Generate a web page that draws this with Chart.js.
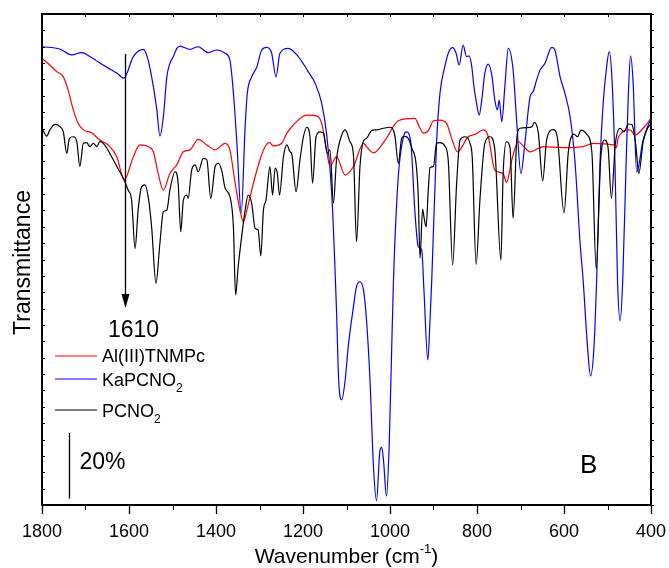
<!DOCTYPE html>
<html>
<head>
<meta charset="utf-8">
<title>FT-IR spectra B</title>
<script src="https://cdn.jsdelivr.net/npm/chart.js@4.4.1/dist/chart.umd.min.js"></script>
<style>
  body { margin: 0; background: #fff; }
  canvas { display: block; }
</style>
</head>
<body>
<canvas id="irChart" width="669" height="568"></canvas>
<script>
'use strict';

// KaPCNO2 (blue): wavenumber in cm-1, transmittance in % (offset scale)
let kaWavenumber = [1800, 1759, 1732, 1709, 1686, 1667, 1644, 1628, 1612, 1590,
  1567, 1556, 1544, 1536, 1529, 1521, 1513, 1506, 1498, 1490,
  1483, 1460, 1441, 1418, 1398, 1379, 1368, 1360, 1352, 1342,
  1333, 1328, 1318, 1306, 1295, 1283, 1272, 1262, 1253, 1234,
  1211, 1188, 1172, 1157, 1146, 1134, 1123, 1118, 1111, 1103,
  1096, 1084, 1077, 1069, 1061, 1054, 1046, 1038, 1031, 1023,
  1019, 1015, 1008, 1002, 996, 992, 981, 969, 962, 952,
  943, 935, 927, 922, 913, 908, 904, 893, 885, 874,
  866, 856, 848, 841, 832, 824, 818, 812, 807, 801,
  795, 789, 782, 774, 766, 759, 753, 749, 743, 736,
  728, 717, 709, 699, 690, 678, 671, 663, 655, 644,
  628, 621, 609, 598, 586, 575, 563, 556, 546, 539,
  531, 525, 517, 510, 502, 496, 490, 483, 477, 471,
  465, 457, 452, 447, 441, 433, 418, 400];
let kaTransmittance = [140.0, 139.3, 137.5, 138.2, 136.7, 135.0, 133.2, 132.0, 130.4, 137.0,
  139.2, 135.9, 127.8, 120.7, 112.7, 118.6, 130.8, 134.9, 137.0, 139.5,
  140.2, 139.2, 140.0, 138.2, 139.0, 138.0, 135.9, 125.9, 110.6, 89.2,
  115.6, 125.8, 130.8, 133.9, 139.0, 139.8, 138.0, 130.8, 138.0, 139.5,
  137.0, 132.4, 128.8, 122.7, 113.6, 95.3, 59.6, 38.2, 32.1, 38.2,
  48.4, 60.6, 66.7, 68.2, 65.7, 56.5, 38.2, 11.7, 1.3, 16.8,
  17.6, 13.7, 2.7, 17.8, 48.4, 68.7, 100.3, 112.5, 114.0, 110.6,
  90.1, 78.9, 77.9, 65.7, 44.3, 56.5, 68.7, 110.6, 125.9, 133.9,
  138.0, 139.7, 138.0, 134.4, 140.5, 137.0, 137.2, 133.9, 127.8, 122.7,
  119.1, 123.7, 131.9, 134.7, 131.4, 123.7, 120.7, 123.7, 117.1, 127.8,
  139.5, 132.9, 117.6, 101.3, 110.5, 124.7, 126.3, 129.8, 132.9, 134.9,
  139.8, 139.0, 130.8, 125.8, 118.6, 105.4, 80.0, 68.7, 48.4, 39.4,
  48.4, 68.7, 105.4, 122.7, 133.9, 138.5, 130.8, 105.4, 68.7, 56.3,
  68.7, 105.4, 125.8, 137.2, 128.8, 101.7, 111.5, 118.2];

// Al(III)TNMPc (red)
let alWavenumber = [1800, 1782, 1766, 1751, 1740, 1728, 1717, 1705, 1686, 1667,
  1648, 1628, 1611, 1590, 1575, 1556, 1544, 1533, 1521, 1506,
  1490, 1475, 1460, 1441, 1421, 1402, 1379, 1368, 1356, 1345,
  1337, 1329, 1314, 1299, 1287, 1277, 1268, 1249, 1237, 1222,
  1207, 1191, 1168, 1157, 1146, 1138, 1123, 1103, 1084, 1061,
  1054, 1038, 1011, 981, 943, 931, 923, 912, 900, 885,
  870, 857, 845, 820, 805, 785, 774, 759, 740, 732,
  720, 705, 694, 678, 648, 602, 556, 533, 487, 480,
  475, 448, 437, 418, 400];
let alTransmittance = [136.5, 134.4, 132.4, 130.8, 126.8, 120.7, 116.6, 114.6, 113.7, 111.5,
  110.0, 106.4, 99.3, 106.4, 110.0, 109.5, 107.9, 101.3, 96.2, 101.3,
  103.9, 107.9, 108.5, 111.7, 110.0, 108.5, 110.5, 108.5, 98.3, 90.1,
  86.5, 90.1, 98.3, 105.4, 109.5, 110.7, 109.7, 110.5, 113.6, 116.1,
  118.1, 119.1, 118.8, 116.6, 108.5, 103.4, 106.4, 100.8, 103.4, 110.5,
  109.5, 107.6, 111.5, 117.4, 118.1, 115.1, 113.6, 114.3, 117.4, 117.6,
  116.6, 111.5, 107.9, 112.5, 113.2, 114.6, 112.5, 102.3, 101.3, 98.5,
  105.4, 111.0, 109.7, 107.9, 109.5, 109.2, 109.5, 110.5, 110.0, 109.1,
  112.3, 114.6, 113.0, 115.1, 118.1];

// PCNO2 (black)
let pcWavenumber = [1800, 1789, 1782, 1770, 1759, 1751, 1743, 1737, 1728, 1720,
  1713, 1705, 1697, 1690, 1682, 1674, 1667, 1659, 1644, 1628,
  1613, 1602, 1594, 1586, 1579, 1571, 1563, 1556, 1548, 1538,
  1529, 1521, 1513, 1506, 1494, 1487, 1481, 1475, 1467, 1464,
  1456, 1448, 1441, 1429, 1421, 1412, 1402, 1395, 1387, 1379,
  1368, 1360, 1355, 1349, 1341, 1333, 1326, 1318, 1310, 1303,
  1297, 1291, 1285, 1276, 1270, 1264, 1259, 1254, 1245, 1237,
  1230, 1226, 1216, 1207, 1199, 1191, 1184, 1178, 1170, 1161,
  1153, 1144, 1138, 1130, 1123, 1111, 1103, 1092, 1084, 1077,
  1069, 1061, 1054, 1042, 1031, 1015, 1000, 989, 981, 973,
  966, 958, 950, 940, 935, 931, 925, 922, 917, 912,
  908, 900, 893, 885, 874, 866, 856, 847, 839, 828,
  816, 811, 802, 793, 782, 770, 759, 745, 740, 732,
  724, 717, 708, 701, 686, 674, 668, 659, 649, 640,
  625, 615, 600, 590, 577, 569, 561, 548, 536, 526,
  516, 507, 499, 491, 482, 471, 462, 452, 444, 435,
  428, 418, 408, 400];
let pcTransmittance = [115.1, 112.7, 114.6, 116.3, 115.6, 114.0, 107.4, 112.0, 112.5, 111.0,
  103.4, 110.5, 110.7, 109.5, 110.5, 109.5, 111.0, 110.5, 107.4, 103.4,
  99.8, 96.2, 93.2, 78.4, 90.1, 97.2, 97.8, 94.2, 85.0, 67.7,
  79.9, 89.6, 90.1, 96.2, 101.8, 98.3, 83.5, 93.2, 94.7, 93.7,
  102.3, 103.9, 101.8, 105.9, 105.4, 93.7, 103.4, 104.4, 102.3, 96.8,
  94.2, 85.0, 64.2, 72.8, 82.0, 90.1, 94.7, 92.2, 84.5, 84.0,
  76.1, 90.1, 93.2, 103.4, 94.7, 102.9, 101.3, 94.7, 106.4, 110.0,
  107.9, 107.4, 95.7, 105.4, 112.5, 115.4, 112.5, 98.3, 112.5, 114.0,
  113.6, 107.4, 108.5, 92.2, 105.4, 113.0, 114.6, 111.0, 106.9, 80.4,
  103.4, 111.2, 112.0, 114.4, 114.6, 115.1, 115.4, 113.0, 104.4, 112.1,
  112.6, 112.0, 109.1, 104.2, 94.2, 75.4, 90.4, 88.1, 85.0, 96.2,
  103.1, 103.4, 110.5, 110.7, 109.7, 105.1, 73.3, 97.8, 111.5, 112.5,
  110.5, 106.3, 73.5, 93.8, 110.5, 112.5, 108.5, 74.8, 100.8, 111.0,
  109.1, 87.6, 112.7, 115.1, 115.3, 115.5, 116.9, 113.6, 99.0, 111.5,
  114.7, 112.0, 89.2, 107.9, 113.3, 112.5, 114.5, 113.3, 107.9, 72.1,
  104.9, 111.5, 109.5, 93.7, 110.3, 115.1, 114.0, 116.4, 116.2, 110.0,
  101.3, 111.0, 115.1, 116.4];

let xTickLabels = [1800, 1600, 1400, 1200, 1000, 800, 600, 400];

// annotations: marked band, scale bar (20 % transmittance)
let markedBand = 1610;
let arrowFrom = 137.8;
let arrowTo = 60.2;
let scaleBarAt = 1738;
let scaleBarFrom = 2;
let scaleBarTo = 22;

const FONT = '"Liberation Sans", Arial, Helvetica, sans-serif';

function toPoints(xs, ys) {
  let points = [];
  for (let i = 0; i < xs.length; i++) {
    points.push({x: xs[i], y: ys[i]});
  }
  return points;
}

// Draw a row of text pieces, each with its own size and vertical shift (sub/sup)
function drawPieces(ctx, pieces, x, y, align) {
  let total = 0;
  for (let p of pieces) {
    ctx.font = p.size + 'px ' + FONT;
    p.w = ctx.measureText(p.text).width;
    total += p.w;
  }
  let cx = align === 'center' ? x - total / 2 : x;
  ctx.textAlign = 'left';
  ctx.textBaseline = 'alphabetic';
  for (let p of pieces) {
    ctx.font = p.size + 'px ' + FONT;
    ctx.fillText(p.text, cx, y + (p.dy || 0));
    cx += p.w;
  }
}

// Legend label with the trailing "2" of NO2 as subscript
function labelPieces(label) {
  if (label.endsWith('NO2')) {
    return [{text: label.slice(0, -1), size: 18}, {text: '2', size: 12, dy: 6}];
  }
  return [{text: label, size: 18}];
}

const decorations = {
  id: 'decorations',
  afterDatasetsDraw(chart) {
    const ctx = chart.ctx;
    const area = chart.chartArea;
    const xs = chart.scales.x;
    const ys = chart.scales.y;
    ctx.save();
    ctx.strokeStyle = '#000';
    ctx.fillStyle = '#000';

    // frame around the plot
    ctx.lineWidth = 2;
    ctx.strokeRect(area.left, area.top, area.right - area.left, area.bottom - area.top);

    // small ticks: top, minor bottom, left and right
    ctx.lineWidth = 1;
    ctx.beginPath();
    for (let w = 400; w <= 1800; w += 100) {
      let px = Math.round(xs.getPixelForValue(w)) + 0.5;
      ctx.moveTo(px, area.top);
      ctx.lineTo(px, area.top + 3);
      if (!xTickLabels.includes(w)) {
        ctx.moveTo(px, area.bottom);
        ctx.lineTo(px, area.bottom + 5);
      }
    }
    for (let v = 0; v <= 150; v += 5) {
      let py = Math.round(ys.getPixelForValue(v)) + 0.5;
      ctx.moveTo(area.left, py);
      ctx.lineTo(area.left + 3, py);
      ctx.moveTo(area.right, py);
      ctx.lineTo(area.right + 3, py);
    }
    ctx.stroke();

    // arrow at 1610
    let ax = Math.round(xs.getPixelForValue(markedBand)) + 0.5;
    let ay0 = ys.getPixelForValue(arrowFrom);
    let ay1 = ys.getPixelForValue(arrowTo);
    ctx.lineWidth = 1.3;
    ctx.beginPath();
    ctx.moveTo(ax, ay0);
    ctx.lineTo(ax, ay1 - 10);
    ctx.stroke();
    ctx.beginPath();
    ctx.moveTo(ax, ay1);
    ctx.lineTo(ax - 4, ay1 - 14);
    ctx.lineTo(ax + 4, ay1 - 14);
    ctx.closePath();
    ctx.fill();
    drawPieces(ctx, [{text: String(markedBand), size: 23}], ax + 8, ay1 + 29, 'center');

    // legend
    let lx = area.left + 13;
    let rows = [
      {ds: chart.data.datasets[1], y: area.bottom - 149, base: area.bottom - 143},
      {ds: chart.data.datasets[2], y: area.bottom - 126, base: area.bottom - 119},
      {ds: chart.data.datasets[0], y: area.bottom - 95, base: area.bottom - 88}
    ];
    for (let r of rows) {
      ctx.strokeStyle = r.ds.borderColor;
      ctx.lineWidth = 1.2;
      ctx.beginPath();
      ctx.moveTo(lx, r.y);
      ctx.lineTo(lx + 42, r.y);
      ctx.stroke();
      drawPieces(ctx, labelPieces(r.ds.label), lx + 47, r.base, 'left');
    }

    // 20 % scale bar
    let sx = Math.round(xs.getPixelForValue(scaleBarAt)) + 0.5;
    ctx.strokeStyle = '#000';
    ctx.lineWidth = 1.3;
    ctx.beginPath();
    ctx.moveTo(sx, ys.getPixelForValue(scaleBarTo));
    ctx.lineTo(sx, ys.getPixelForValue(scaleBarFrom));
    ctx.stroke();
    drawPieces(ctx, [{text: '20%', size: 23}], sx + 10, ys.getPixelForValue(12) + 3, 'left');

    // panel letter
    drawPieces(ctx, [{text: 'B', size: 26}], area.right - 71, area.bottom - 32, 'left');

    // axis titles
    let midX = (area.left + area.right) / 2;
    drawPieces(ctx, [
      {text: 'Wavenumber (cm', size: 21},
      {text: '-1', size: 13, dy: -10},
      {text: ')', size: 21}
    ], midX, chart.height - 5, 'center');

    ctx.save();
    ctx.translate(24, (area.top + area.bottom) / 2 + 3);
    ctx.rotate(-Math.PI / 2);
    ctx.font = '23px ' + FONT;
    ctx.textAlign = 'center';
    ctx.textBaseline = 'middle';
    ctx.fillText('Transmittance', 0, 0);
    ctx.restore();

    ctx.restore();
  }
};

let irChart = new Chart(document.getElementById('irChart'), {
  type: 'line',
  data: {
    datasets: [
      {label: 'PCNO2', data: toPoints(pcWavenumber, pcTransmittance), borderColor: '#000000'},
      {label: 'Al(III)TNMPc', data: toPoints(alWavenumber, alTransmittance), borderColor: '#ff0000'},
      {label: 'KaPCNO2', data: toPoints(kaWavenumber, kaTransmittance), borderColor: '#0000ff'}
    ]
  },
  options: {
    responsive: false,
    animation: false,
    events: [],
    layout: {padding: {top: 14, right: 18, left: 0, bottom: 0}},
    elements: {
      point: {radius: 0},
      line: {borderWidth: 1.2, fill: false, cubicInterpolationMode: 'monotone'}
    },
    plugins: {
      legend: {display: false},
      tooltip: {enabled: false}
    },
    scales: {
      x: {
        type: 'linear',
        reverse: true,
        min: 400,
        max: 1800,
        ticks: {
          stepSize: 100,
          autoSkip: false,
          maxRotation: 0,
          padding: 7,
          color: '#000',
          font: {family: FONT, size: 18},
          callback: (value) => xTickLabels.includes(value) ? String(value) : ''
        },
        grid: {
          drawOnChartArea: false,
          tickLength: 9,
          tickWidth: 1.3,
          tickColor: (c) => (c.tick && xTickLabels.includes(c.tick.value)) ? '#000' : 'rgba(0,0,0,0)'
        },
        border: {display: true, color: '#000', width: 2},
        // fixed height, and no extra side padding for the end labels
        afterFit: (scale) => {
          scale.height = 63;
          scale.paddingLeft = 0;
          scale.paddingRight = 0;
        }
      },
      y: {
        min: 0,
        max: 150,
        ticks: {display: false, stepSize: 5},
        grid: {display: false},
        border: {display: true, color: '#000', width: 2},
        afterFit: (scale) => { scale.width = 42; }
      }
    }
  },
  plugins: [decorations]
});
</script>
</body>
</html>
